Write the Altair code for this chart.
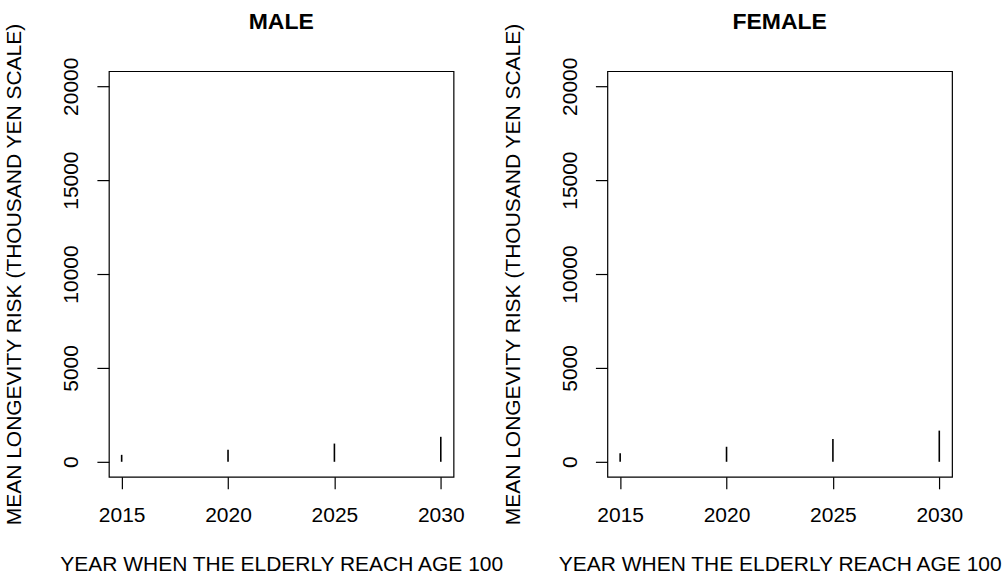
import altair as alt
import pandas as pd

years = [2015, 2020, 2025, 2030]
male = [370, 640, 970, 1330]
female = [460, 800, 1210, 1660]
panels = ["MALE", "FEMALE"]
y_ticks = [0, 5000, 10000, 15000, 20000]
x_ticks = [2015, 2020, 2025, 2030]

FONT = "Liberation Sans"


def panel(title, values):
    df = pd.DataFrame({"year": years, "risk": values})
    return (
        alt.Chart(df)
        .mark_rule(color="black", strokeWidth=1.6)
        .encode(
            x=alt.X(
                "year:Q",
                scale=alt.Scale(domain=[2014.4, 2030.6], nice=False, zero=False),
                axis=alt.Axis(
                    values=x_ticks,
                    format="d",
                    title="YEAR WHEN THE ELDERLY REACH AGE 100",
                    labelPadding=16,
                    titlePadding=28,
                ),
            ),
            y=alt.Y(
                "risk:Q",
                scale=alt.Scale(domain=[-800, 20800], nice=False, zero=False),
                axis=alt.Axis(
                    values=y_ticks,
                    format="d",
                    labelAngle=270,
                    title="MEAN LONGEVITY RISK (THOUSAND YEN SCALE)",
                    labelPadding=15,
                    titlePadding=36,
                ),
            ),
            y2=alt.datum(0),
        )
        .properties(
            width=345,
            height=406,
            title=alt.TitleParams(
                title,
                fontSize=23,
                fontWeight="bold",
                font=FONT,
                anchor="middle",
                frame="group",
                offset=-11,
                color="black",
            ),
        )
    )


chart = (
    alt.hconcat(
        panel(panels[0], male), panel(panels[1], female), spacing=154, bounds="flush"
    )
    .properties(
        padding={"left": 3, "top": 9, "right": 0, "bottom": 0},
        background="white",
    )
    .configure_view(stroke="black", strokeWidth=1.2)
    .configure_axis(
        domain=False,
        grid=False,
        tickColor="black",
        tickSize=12,
        tickWidth=1.2,
        labelFont=FONT,
        labelFontSize=21,
        labelColor="black",
        titleFont=FONT,
        titleFontSize=21,
        titleFontWeight="normal",
        titleColor="black",
    )
)

chart.save("out.html", embed_options={"renderer": "svg", "actions": False})
